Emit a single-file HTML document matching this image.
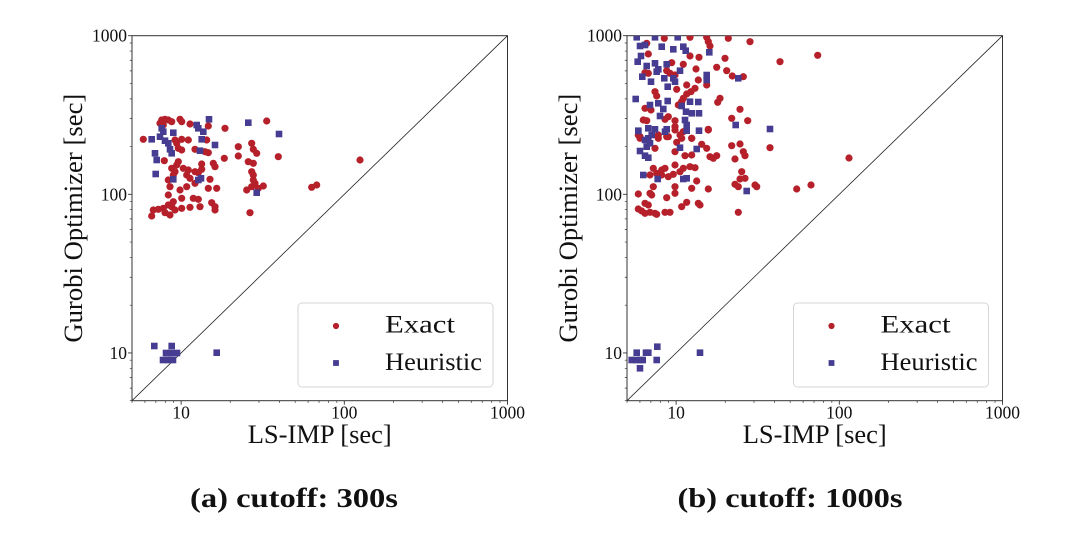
<!DOCTYPE html>
<html><head><meta charset="utf-8"><style>
html,body{margin:0;padding:0;background:#fff}
svg{display:block}
text{font-family:"Liberation Serif","Times New Roman",serif;fill:#111}
</style></head><body>
<svg width="1080" height="536" viewBox="0 0 1080 536" xmlns="http://www.w3.org/2000/svg">
<defs>
<clipPath id="cl"><rect x="132" y="35.7" width="375.5" height="365"/></clipPath>
<clipPath id="cr"><rect x="627" y="35.7" width="375.5" height="365"/></clipPath>
<rect id="s" x="-3.3" y="-3.3" width="6.6" height="6.6"/>
<g id="ax">
<rect x="0" y="0" width="375.5" height="365" fill="none" stroke="#333" stroke-width="1"/>
<line x1="0" y1="365" x2="375.5" y2="0" stroke="#222" stroke-width="0.8"/>
<path fill="none" stroke="#333" stroke-width="0.9" d="M49.12 365v4M212.3 365v4M375.48 365v4M0 317.25h-4M0 158.63h-4M0 0h-4"/>
<path fill="none" stroke="#333" stroke-width="0.7" d="M0 365v2.2M12.92 365v2.2M23.85 365v2.2M33.31 365v2.2M41.66 365v2.2M98.24 365v2.2M126.98 365v2.2M147.37 365v2.2M163.18 365v2.2M176.1 365v2.2M187.03 365v2.2M196.49 365v2.2M204.84 365v2.2M261.42 365v2.2M290.16 365v2.2M310.54 365v2.2M326.36 365v2.2M339.28 365v2.2M350.2 365v2.2M359.67 365v2.2M368.01 365v2.2M0 365h-2.2M0 352.44h-2.2M0 341.8h-2.2M0 332.62h-2.2M0 324.5h-2.2M0 269.51h-2.2M0 241.57h-2.2M0 221.75h-2.2M0 206.38h-2.2M0 193.82h-2.2M0 183.2h-2.2M0 174h-2.2M0 165.88h-2.2M0 110.88h-2.2M0 82.95h-2.2M0 63.14h-2.2M0 47.76h-2.2M0 35.2h-2.2M0 24.58h-2.2M0 15.38h-2.2M0 7.27h-2.2"/>
</g>
</defs>

<!-- LEFT PLOT -->
<g transform="translate(132,35.7)">
<use href="#ax"/>
<g font-size="17.5">
<text x="-5" y="6" text-anchor="end">1000</text>
<text x="-5" y="164.6" text-anchor="end">100</text>
<text x="-5" y="323.2" text-anchor="end">10</text>
<text x="49.12" y="382.8" text-anchor="middle">10</text>
<text x="212.3" y="382.8" text-anchor="middle">100</text>
<text x="375.48" y="382.8" text-anchor="middle">1000</text>
</g>
<text x="187.75" y="407.3" text-anchor="middle" font-size="26" textLength="144" lengthAdjust="spacingAndGlyphs">LS-IMP [sec]</text>
<text transform="translate(-50,182.5) rotate(-90)" text-anchor="middle" font-size="26.5" textLength="249" lengthAdjust="spacingAndGlyphs">Gurobi Optimizer [sec]</text>
</g>
<g clip-path="url(#cl)">
<g fill="#b5202a">
<circle cx="161.7" cy="120" r="3.6"/><circle cx="165" cy="119.3" r="3.6"/><circle cx="168.3" cy="120" r="3.6"/><circle cx="171.7" cy="121.7" r="3.6"/><circle cx="160" cy="123.3" r="3.6"/><circle cx="163.3" cy="125" r="3.6"/><circle cx="180" cy="119.3" r="3.6"/><circle cx="181.7" cy="121.7" r="3.6"/><circle cx="190" cy="124" r="3.6"/><circle cx="208.3" cy="126" r="3.6"/><circle cx="225" cy="128.3" r="3.6"/><circle cx="266.7" cy="121" r="3.6"/><circle cx="143.3" cy="139.3" r="3.6"/><circle cx="175" cy="140" r="3.6"/><circle cx="176.7" cy="143.3" r="3.6"/><circle cx="181.7" cy="139.3" r="3.6"/><circle cx="188.3" cy="140" r="3.6"/><circle cx="206.7" cy="140" r="3.6"/><circle cx="178.3" cy="148.3" r="3.6"/><circle cx="181.7" cy="150" r="3.6"/><circle cx="195" cy="149.3" r="3.6"/><circle cx="205" cy="151.7" r="3.6"/><circle cx="208.3" cy="152.7" r="3.6"/><circle cx="238.3" cy="146.7" r="3.6"/><circle cx="251.7" cy="143.3" r="3.6"/><circle cx="253.3" cy="149.3" r="3.6"/><circle cx="256.7" cy="153.3" r="3.6"/><circle cx="238.3" cy="156" r="3.6"/><circle cx="278.3" cy="156.7" r="3.6"/><circle cx="224.3" cy="158.3" r="3.6"/><circle cx="164.3" cy="160.7" r="3.6"/><circle cx="178.3" cy="161.7" r="3.6"/><circle cx="176.7" cy="165" r="3.6"/><circle cx="248.3" cy="161.7" r="3.6"/><circle cx="253.3" cy="163.3" r="3.6"/><circle cx="201.7" cy="164" r="3.6"/><circle cx="213.3" cy="163.3" r="3.6"/><circle cx="215" cy="166.7" r="3.6"/><circle cx="171.7" cy="168.3" r="3.6"/><circle cx="175" cy="171.7" r="3.6"/><circle cx="183.3" cy="168.3" r="3.6"/><circle cx="188.3" cy="170" r="3.6"/><circle cx="195" cy="171.7" r="3.6"/><circle cx="201.7" cy="169.3" r="3.6"/><circle cx="198.3" cy="172.7" r="3.6"/><circle cx="251.7" cy="171.7" r="3.6"/><circle cx="253.3" cy="175" r="3.6"/><circle cx="253.3" cy="180" r="3.6"/><circle cx="255" cy="183.3" r="3.6"/><circle cx="251.7" cy="186.7" r="3.6"/><circle cx="246.7" cy="190" r="3.6"/><circle cx="258.3" cy="188.3" r="3.6"/><circle cx="263.3" cy="186" r="3.6"/><circle cx="173.3" cy="175" r="3.6"/><circle cx="186.7" cy="175" r="3.6"/><circle cx="190" cy="178.3" r="3.6"/><circle cx="210" cy="179.3" r="3.6"/><circle cx="168.3" cy="180" r="3.6"/><circle cx="170" cy="186.7" r="3.6"/><circle cx="180" cy="190" r="3.6"/><circle cx="186.7" cy="186.7" r="3.6"/><circle cx="195" cy="183.3" r="3.6"/><circle cx="208.3" cy="188.3" r="3.6"/><circle cx="216.7" cy="188.3" r="3.6"/><circle cx="168.3" cy="195" r="3.6"/><circle cx="181.7" cy="198.3" r="3.6"/><circle cx="193.3" cy="198.3" r="3.6"/><circle cx="198.3" cy="199.3" r="3.6"/><circle cx="211.7" cy="202.7" r="3.6"/><circle cx="215" cy="206.7" r="3.6"/><circle cx="173.3" cy="201.7" r="3.6"/><circle cx="168.3" cy="205" r="3.6"/><circle cx="171.7" cy="206.7" r="3.6"/><circle cx="163.3" cy="208.3" r="3.6"/><circle cx="158.3" cy="209.3" r="3.6"/><circle cx="153.3" cy="210" r="3.6"/><circle cx="175" cy="210" r="3.6"/><circle cx="181.7" cy="208.3" r="3.6"/><circle cx="190" cy="207.3" r="3.6"/><circle cx="200" cy="206.7" r="3.6"/><circle cx="151.7" cy="216" r="3.6"/><circle cx="165" cy="212.7" r="3.6"/><circle cx="170" cy="215" r="3.6"/><circle cx="215" cy="210" r="3.6"/><circle cx="250" cy="212.7" r="3.6"/><circle cx="311.7" cy="187.3" r="3.6"/><circle cx="316.7" cy="185" r="3.6"/><circle cx="360" cy="160" r="3.6"/>
</g>
<g fill="#463c91">
<use href="#s" x="209" y="119.3"/><use href="#s" x="248.3" y="122.7"/><use href="#s" x="279" y="134"/><use href="#s" x="196.7" y="125"/><use href="#s" x="198.3" y="128.3"/><use href="#s" x="203.3" y="131.7"/><use href="#s" x="161.7" y="128.3"/><use href="#s" x="163.3" y="131.7"/><use href="#s" x="173.3" y="132.7"/><use href="#s" x="151.7" y="139.3"/><use href="#s" x="160" y="136.7"/><use href="#s" x="165" y="140.7"/><use href="#s" x="168.3" y="143.3"/><use href="#s" x="170" y="149.3"/><use href="#s" x="171.7" y="153.3"/><use href="#s" x="155" y="153.3"/><use href="#s" x="156.7" y="160"/><use href="#s" x="201.7" y="139.3"/><use href="#s" x="215" y="145"/><use href="#s" x="200" y="150.7"/><use href="#s" x="155.7" y="174"/><use href="#s" x="173.3" y="179.3"/><use href="#s" x="198.3" y="180"/><use href="#s" x="201" y="178.3"/><use href="#s" x="256.7" y="192.7"/>
<use href="#s" x="154.3" y="346"/><use href="#s" x="171.7" y="346"/><use href="#s" x="166" y="353"/><use href="#s" x="171" y="353"/><use href="#s" x="177" y="353"/><use href="#s" x="163" y="360"/><use href="#s" x="168" y="360"/><use href="#s" x="173" y="360"/><use href="#s" x="216.7" y="352.7"/>
</g>
</g>
<!-- left legend -->
<g>
<rect x="298" y="303" width="195" height="84" rx="4" fill="#fff" fill-opacity="0.9" stroke="#d6d6d6" stroke-width="1"/>
<circle cx="336" cy="326" r="3.1" fill="#b5202a"/>
<rect x="333.1" y="360.1" width="5.8" height="5.8" fill="#463c91"/>
<text x="385" y="332.7" font-size="25" textLength="70" lengthAdjust="spacingAndGlyphs">Exact</text>
<text x="385" y="369.8" font-size="25" textLength="97" lengthAdjust="spacingAndGlyphs">Heuristic</text>
</g>

<!-- RIGHT PLOT -->
<g transform="translate(627,35.7)">
<use href="#ax"/>
<g font-size="17.5">
<text x="-5" y="6" text-anchor="end">1000</text>
<text x="-5" y="164.6" text-anchor="end">100</text>
<text x="-5" y="323.2" text-anchor="end">10</text>
<text x="49.12" y="382.8" text-anchor="middle">10</text>
<text x="212.3" y="382.8" text-anchor="middle">100</text>
<text x="375.48" y="382.8" text-anchor="middle">1000</text>
</g>
<text x="187.75" y="407.3" text-anchor="middle" font-size="26" textLength="144" lengthAdjust="spacingAndGlyphs">LS-IMP [sec]</text>
<text transform="translate(-50,182.5) rotate(-90)" text-anchor="middle" font-size="26.5" textLength="249" lengthAdjust="spacingAndGlyphs">Gurobi Optimizer [sec]</text>
</g>
<g clip-path="url(#cr)">
<g fill="#b5202a">
<circle cx="664.3" cy="38.3" r="3.6"/><circle cx="690" cy="37.3" r="3.6"/><circle cx="706.7" cy="37.3" r="3.6"/><circle cx="708.3" cy="41.7" r="3.6"/><circle cx="728.3" cy="38.3" r="3.6"/><circle cx="750" cy="41.7" r="3.6"/><circle cx="710" cy="46" r="3.6"/><circle cx="646.7" cy="43.3" r="3.6"/><circle cx="648.3" cy="54" r="3.6"/><circle cx="690" cy="56" r="3.6"/><circle cx="699" cy="57.3" r="3.6"/><circle cx="725" cy="58.3" r="3.6"/><circle cx="780" cy="61.7" r="3.6"/><circle cx="817.7" cy="55.3" r="3.6"/><circle cx="716.7" cy="67.3" r="3.6"/><circle cx="726.7" cy="70.7" r="3.6"/><circle cx="671.7" cy="62.7" r="3.6"/><circle cx="683.3" cy="64.3" r="3.6"/><circle cx="696" cy="69" r="3.6"/><circle cx="666.7" cy="70.7" r="3.6"/><circle cx="670" cy="73.3" r="3.6"/><circle cx="645" cy="72.7" r="3.6"/><circle cx="648.3" cy="73.3" r="3.6"/><circle cx="675" cy="75" r="3.6"/><circle cx="732.3" cy="76" r="3.6"/><circle cx="743.3" cy="76.7" r="3.6"/><circle cx="698.3" cy="80" r="3.6"/><circle cx="686.7" cy="85" r="3.6"/><circle cx="676.7" cy="89.3" r="3.6"/><circle cx="706.7" cy="85" r="3.6"/><circle cx="695" cy="88.3" r="3.6"/><circle cx="691" cy="91.7" r="3.6"/><circle cx="686.7" cy="94" r="3.6"/><circle cx="655" cy="91.7" r="3.6"/><circle cx="656.7" cy="96" r="3.6"/><circle cx="683.3" cy="98.3" r="3.6"/><circle cx="720" cy="98.3" r="3.6"/><circle cx="717.7" cy="102.3" r="3.6"/><circle cx="681.7" cy="101.7" r="3.6"/><circle cx="645" cy="108.3" r="3.6"/><circle cx="651" cy="110" r="3.6"/><circle cx="678.3" cy="105" r="3.6"/><circle cx="740" cy="109.3" r="3.6"/><circle cx="668.3" cy="116.7" r="3.6"/><circle cx="665" cy="119.3" r="3.6"/><circle cx="675" cy="120.7" r="3.6"/><circle cx="643.3" cy="120" r="3.6"/><circle cx="646.7" cy="120.7" r="3.6"/><circle cx="731.7" cy="118.3" r="3.6"/><circle cx="747.7" cy="120.7" r="3.6"/><circle cx="708.3" cy="129.3" r="3.6"/><circle cx="675" cy="130" r="3.6"/><circle cx="691.7" cy="138.3" r="3.6"/><circle cx="680" cy="135" r="3.6"/><circle cx="666.7" cy="136.7" r="3.6"/><circle cx="640" cy="136.7" r="3.6"/><circle cx="658.3" cy="138.3" r="3.6"/>
<circle cx="638.3" cy="135" r="3.6"/><circle cx="640" cy="138.3" r="3.6"/><circle cx="658.3" cy="135" r="3.6"/><circle cx="668.3" cy="136.7" r="3.6"/><circle cx="675" cy="126.7" r="3.6"/><circle cx="683.3" cy="131.7" r="3.6"/><circle cx="691.7" cy="138.3" r="3.6"/><circle cx="708.3" cy="130" r="3.6"/><circle cx="676.7" cy="142.3" r="3.6"/><circle cx="681.7" cy="138.3" r="3.6"/><circle cx="701.7" cy="144.3" r="3.6"/><circle cx="706.7" cy="148.3" r="3.6"/><circle cx="675" cy="151.7" r="3.6"/><circle cx="685" cy="155.7" r="3.6"/><circle cx="691.7" cy="155" r="3.6"/><circle cx="731.7" cy="145.7" r="3.6"/><circle cx="740" cy="144" r="3.6"/><circle cx="743.3" cy="151.7" r="3.6"/><circle cx="745" cy="155.7" r="3.6"/><circle cx="735" cy="159" r="3.6"/><circle cx="770" cy="147.7" r="3.6"/><circle cx="710" cy="156.7" r="3.6"/><circle cx="713.3" cy="158.3" r="3.6"/><circle cx="716.7" cy="155.7" r="3.6"/><circle cx="655" cy="148.3" r="3.6"/><circle cx="653.3" cy="168.3" r="3.6"/><circle cx="661.7" cy="170" r="3.6"/><circle cx="656.7" cy="173.3" r="3.6"/><circle cx="665" cy="168.3" r="3.6"/><circle cx="675" cy="165" r="3.6"/><circle cx="680" cy="171.7" r="3.6"/><circle cx="673.3" cy="174.3" r="3.6"/><circle cx="690" cy="166.7" r="3.6"/><circle cx="695" cy="167.7" r="3.6"/><circle cx="683.3" cy="168.3" r="3.6"/><circle cx="650" cy="175" r="3.6"/><circle cx="661.7" cy="175" r="3.6"/><circle cx="668.3" cy="176.7" r="3.6"/><circle cx="696.7" cy="181" r="3.6"/><circle cx="741.7" cy="171.7" r="3.6"/><circle cx="740" cy="179" r="3.6"/><circle cx="745" cy="178.3" r="3.6"/><circle cx="735" cy="184.3" r="3.6"/><circle cx="738.3" cy="186.7" r="3.6"/><circle cx="756.7" cy="186.7" r="3.6"/><circle cx="755" cy="185" r="3.6"/><circle cx="796.7" cy="189" r="3.6"/><circle cx="811" cy="185" r="3.6"/><circle cx="849" cy="158" r="3.6"/><circle cx="653.3" cy="186.7" r="3.6"/><circle cx="675" cy="186.7" r="3.6"/><circle cx="691.7" cy="188.3" r="3.6"/><circle cx="708.3" cy="189" r="3.6"/><circle cx="638.3" cy="194" r="3.6"/><circle cx="651.7" cy="195" r="3.6"/><circle cx="650" cy="193.3" r="3.6"/><circle cx="666.7" cy="197.7" r="3.6"/><circle cx="675" cy="193.3" r="3.6"/><circle cx="686.7" cy="202.3" r="3.6"/><circle cx="698.3" cy="203.3" r="3.6"/><circle cx="700" cy="205" r="3.6"/><circle cx="681.7" cy="206.7" r="3.6"/><circle cx="645" cy="203.3" r="3.6"/><circle cx="648.3" cy="205" r="3.6"/><circle cx="638.3" cy="209" r="3.6"/><circle cx="641.7" cy="211" r="3.6"/><circle cx="645" cy="213.3" r="3.6"/><circle cx="650" cy="212.3" r="3.6"/><circle cx="655" cy="213.3" r="3.6"/><circle cx="656.7" cy="214.3" r="3.6"/><circle cx="665" cy="212.3" r="3.6"/><circle cx="670" cy="212.3" r="3.6"/><circle cx="738.3" cy="212.3" r="3.6"/>
</g>
<g fill="#463c91">
<use href="#s" x="636.7" y="37.3"/><use href="#s" x="655" y="37.3"/><use href="#s" x="677.7" y="37.3"/><use href="#s" x="640" y="46"/><use href="#s" x="645" y="45"/><use href="#s" x="661.7" y="46.7"/><use href="#s" x="673.3" y="49.3"/><use href="#s" x="685.7" y="50.7"/><use href="#s" x="683.3" y="46.7"/><use href="#s" x="709.3" y="52.3"/><use href="#s" x="641" y="56"/><use href="#s" x="637.7" y="61.7"/><use href="#s" x="646.7" y="66"/><use href="#s" x="655" y="63.3"/><use href="#s" x="666.7" y="64.3"/><use href="#s" x="656.7" y="71.7"/><use href="#s" x="658.3" y="69.3"/><use href="#s" x="642.3" y="76.7"/><use href="#s" x="651" y="81.7"/><use href="#s" x="664.3" y="78.3"/><use href="#s" x="673.3" y="78.3"/><use href="#s" x="675" y="81.7"/><use href="#s" x="680" y="70.7"/><use href="#s" x="706.7" y="80"/><use href="#s" x="706.7" y="75"/><use href="#s" x="667.7" y="86.7"/><use href="#s" x="738.3" y="78.3"/><use href="#s" x="635.7" y="99"/><use href="#s" x="658.3" y="103.3"/><use href="#s" x="667.7" y="101"/><use href="#s" x="690" y="101.7"/><use href="#s" x="698.3" y="102"/><use href="#s" x="650" y="105"/><use href="#s" x="663.3" y="109"/><use href="#s" x="681.7" y="106"/><use href="#s" x="686" y="111.7"/><use href="#s" x="691.7" y="113.3"/><use href="#s" x="699" y="113.3"/><use href="#s" x="660" y="116"/><use href="#s" x="685" y="120"/><use href="#s" x="686.7" y="125"/><use href="#s" x="638.3" y="130.7"/><use href="#s" x="648.3" y="128.3"/><use href="#s" x="655" y="129.3"/><use href="#s" x="666.7" y="129.3"/><use href="#s" x="686.7" y="130.7"/><use href="#s" x="699" y="130.7"/><use href="#s" x="735.7" y="125"/><use href="#s" x="770" y="129"/><use href="#s" x="651.7" y="135"/><use href="#s" x="648.3" y="138.3"/>
<use href="#s" x="638.3" y="131"/><use href="#s" x="665" y="131.7"/><use href="#s" x="645" y="140"/><use href="#s" x="650" y="143.3"/><use href="#s" x="646.7" y="146.7"/><use href="#s" x="640" y="151"/><use href="#s" x="645" y="155.7"/><use href="#s" x="648.3" y="157.7"/><use href="#s" x="696.7" y="149"/><use href="#s" x="680" y="147.7"/><use href="#s" x="643.3" y="175"/><use href="#s" x="657.7" y="179"/><use href="#s" x="683.3" y="179"/><use href="#s" x="686.7" y="178.3"/><use href="#s" x="746.7" y="191"/>
<use href="#s" x="636.7" y="352.7"/><use href="#s" x="646" y="352.7"/><use href="#s" x="648.3" y="352.7"/><use href="#s" x="657.3" y="346.7"/><use href="#s" x="631.7" y="360"/><use href="#s" x="636" y="360"/><use href="#s" x="640" y="360"/><use href="#s" x="642.7" y="360"/><use href="#s" x="656.7" y="360"/><use href="#s" x="640" y="368.3"/><use href="#s" x="700" y="352.7"/>
</g>
</g>
<!-- right legend -->
<g>
<rect x="793.5" y="303" width="195" height="84" rx="4" fill="#fff" fill-opacity="0.9" stroke="#d6d6d6" stroke-width="1"/>
<circle cx="831.5" cy="326" r="3.1" fill="#b5202a"/>
<rect x="828.6" y="360.1" width="5.8" height="5.8" fill="#463c91"/>
<text x="880.5" y="332.7" font-size="25" textLength="70" lengthAdjust="spacingAndGlyphs">Exact</text>
<text x="880.5" y="369.8" font-size="25" textLength="97" lengthAdjust="spacingAndGlyphs">Heuristic</text>
</g>

<!-- titles -->
<text x="294" y="507" text-anchor="middle" font-size="27" font-weight="bold" textLength="208" lengthAdjust="spacingAndGlyphs">(a) cutoff: 300s</text>
<text x="790" y="507" text-anchor="middle" font-size="27" font-weight="bold" textLength="225" lengthAdjust="spacingAndGlyphs">(b) cutoff: 1000s</text>
</svg>
</body></html>
